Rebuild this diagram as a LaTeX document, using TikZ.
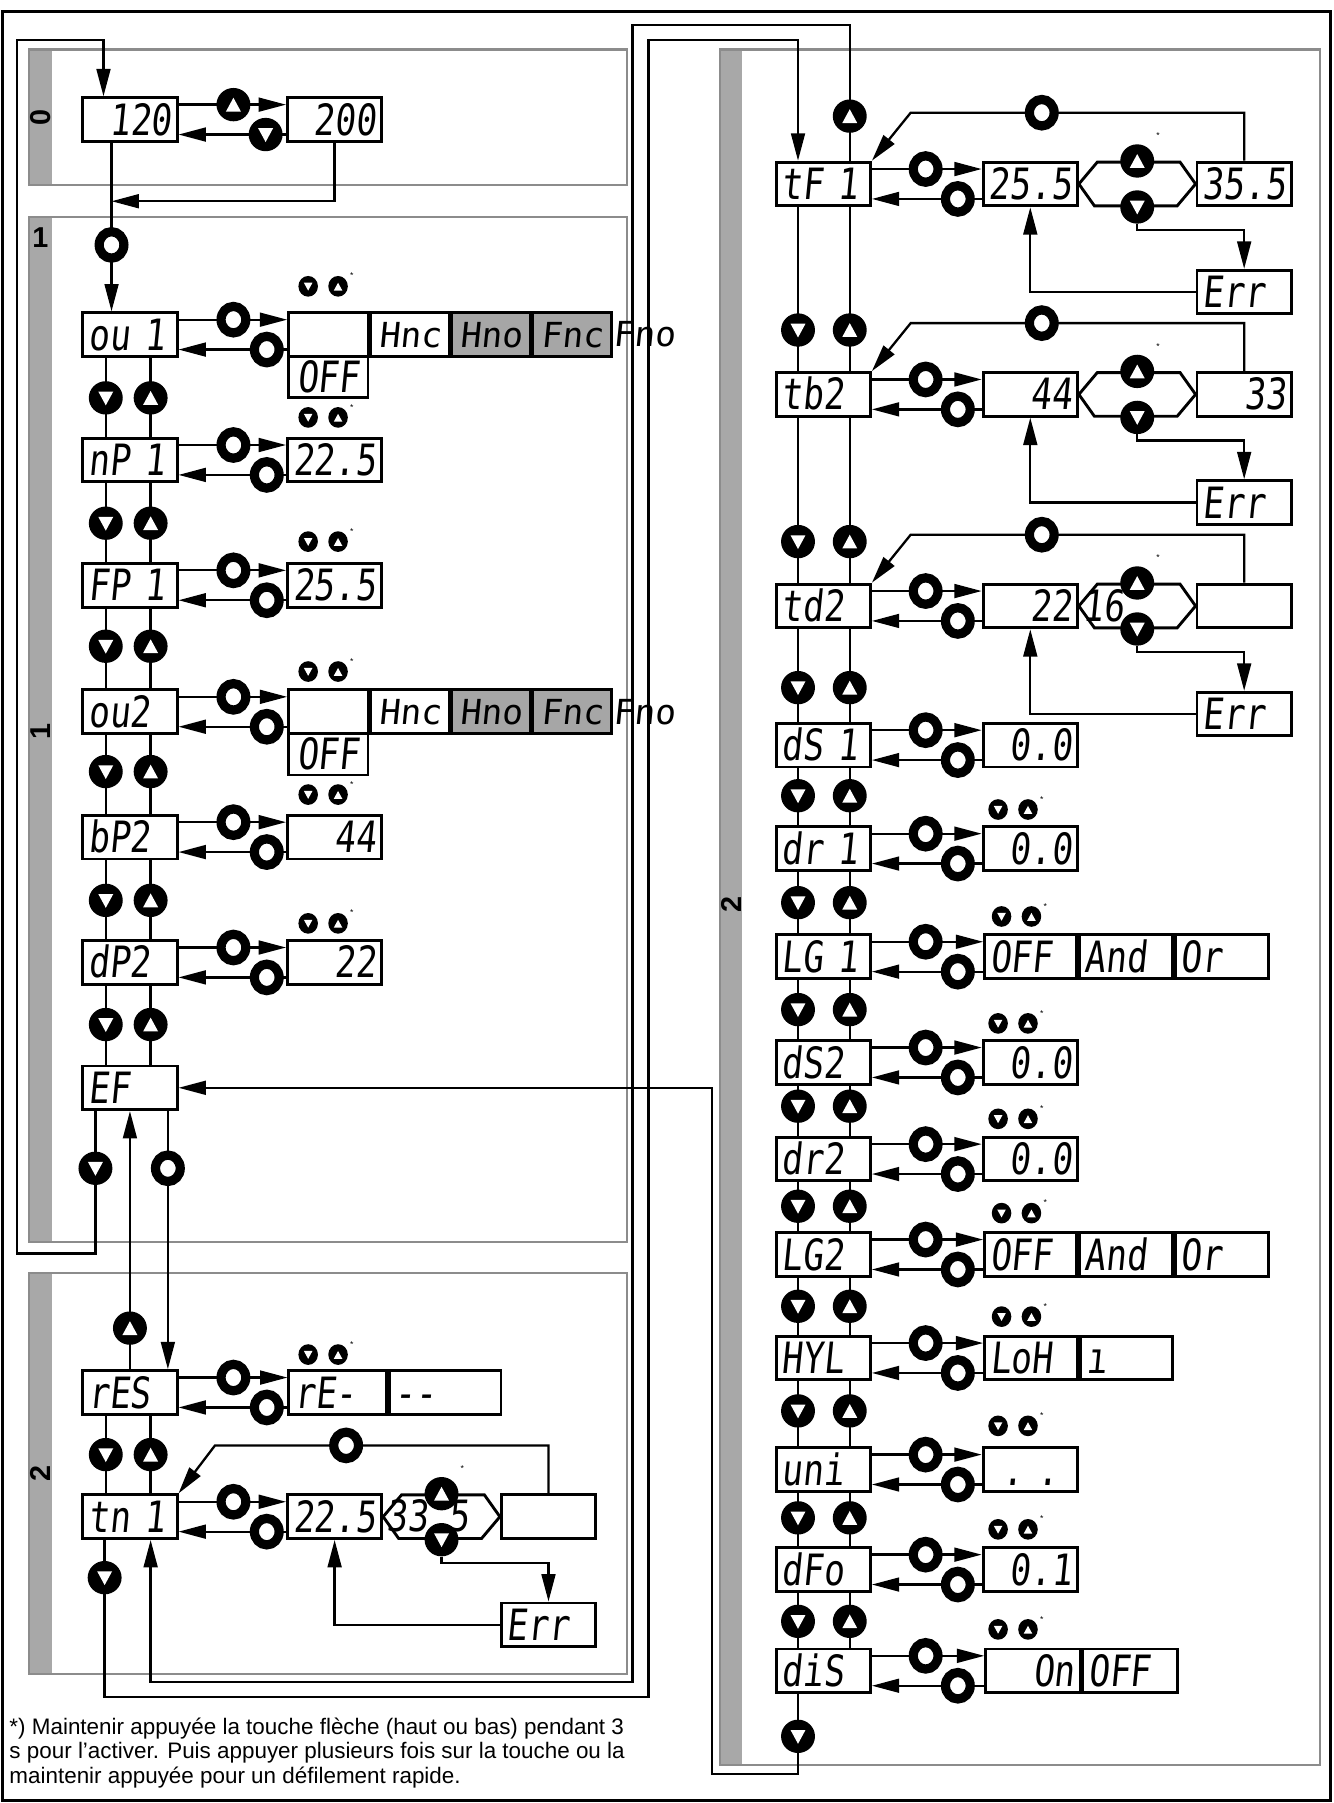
\documentclass[tikz,border=0pt]{standalone}
\usepackage{fontspec}
\setmainfont{Liberation Sans}
\newfontfamily\segfont[FakeStretch=0.8,FakeSlant=0.1]{DejaVu Sans Mono}
\newfontfamily\segwide[FakeSlant=0.1]{DejaVu Sans Mono}
\usepackage{xcolor}
\usetikzlibrary{arrows.meta,calc,positioning,shapes.geometric}
\definecolor{secGray}{HTML}{8C8C8C}
\definecolor{barGray}{HTML}{A8A8A8}
\definecolor{cellGray}{HTML}{A6A6A6}
\pgfdeclarelayer{back}
\pgfdeclarelayer{wires}
\pgfsetlayers{back,wires,main}

\begin{document}
\begin{tikzpicture}[x=0.8pt,y=-0.8pt,
    disp/.style={draw, line width=2pt, fill=white, minimum height=30.4pt, inner ysep=0pt, inner xsep=3.8pt,
      text height=21.6pt, text depth=0pt, font=\segfont\fontsize{30}{30}\selectfont},
    param/.style={disp, text width=58pt, align=left},
    val/.style={disp, text width=58pt, align=right},
    cellL/.style={disp, text width=#1, align=left},
    cellR/.style={disp, text width=#1, align=right},
    hcell/.style={disp, minimum width=54.4pt, text height=17.5pt, font=\segwide\fontsize{24}{24}\selectfont},
    kO/.style={ellipse, draw, line width=6.4pt, fill=white, minimum width=17.2pt, minimum height=18.4pt, inner sep=0pt},
    kDn/.style={ellipse, fill=black, minimum width=23.6pt, minimum height=23.2pt, inner sep=0pt,
      path picture={\fill[white] ([shift={(-5.2pt,4.4pt)}]path picture bounding box.center) -- ++(10.4pt,0pt) -- ++(-5.2pt,-9.6pt) -- cycle;}},
    kUp/.style={ellipse, fill=black, minimum width=23.6pt, minimum height=23.2pt, inner sep=0pt,
      path picture={\fill[white] ([shift={(-5.2pt,-4.8pt)}]path picture bounding box.center) -- ++(10.4pt,0pt) -- ++(-5.2pt,9.6pt) -- cycle;}},
    skDn/.style={ellipse, fill=black, minimum width=13.6pt, minimum height=14.4pt, inner sep=0pt,
      path picture={\fill[white] ([shift={(-3pt,2.5pt)}]path picture bounding box.center) -- ++(6pt,0pt) -- ++(-3pt,-5.5pt) -- cycle;}},
    skUp/.style={ellipse, fill=black, minimum width=13.6pt, minimum height=14.4pt, inner sep=0pt,
      path picture={\fill[white] ([shift={(-3pt,-3pt)}]path picture bounding box.center) -- ++(6pt,0pt) -- ++(-3pt,5.5pt) -- cycle;}},
    star/.style={inner sep=0pt, font=\fontsize{6}{6}\selectfont},
    wire/.style={line width=1.6pt},
    arr/.style={wire, -{Triangle[length=19pt,width=9.6pt]}},
    sec/.style={draw=secGray, line width=1.6pt},
    lbl/.style={font=\bfseries\fontsize{20}{20}\selectfont, inner sep=0pt}
  ]
  \useasboundingbox (0,0) rectangle (1160,1568);
  \draw[line width=2pt] (2,10) rectangle (1157,1566);

  % menu sections
  \begin{pgfonlayer}{back}
    \fill[barGray] (25,43) rectangle (45,161);     \draw[sec] (25,43) rectangle (545,161);
    \fill[barGray] (25,189) rectangle (45,1080);   \draw[sec] (25,189) rectangle (545,1080);
    \fill[barGray] (25,1107) rectangle (45,1456);  \draw[sec] (25,1107) rectangle (545,1456);
    \fill[barGray] (626,43) rectangle (645,1535);  \draw[sec] (626,43) rectangle (1148,1535);
  \end{pgfonlayer}
  \node[lbl, rotate=90] (lbl0) at (35,102) {0};
  \node[lbl] (lbl1) at (35,207) {1};
  \node[lbl, rotate=90] (lbl1b) at (35,636) {1};
  \node[lbl, rotate=90] (lbl2) at (35,1281) {2};
  \node[lbl, rotate=90] (lbl3) at (636,787) {2};

  % parameters
  \node[val] (p120) at (113,104) {120};
  \node[val] (p200) at (291,104) {200};
  \node[param] (ou1) at (113,291) {ou 1};
  \node[param] (nP1) at (113,400) {nP 1};
  \node[param] (FP1) at (113,509) {FP 1};
  \node[param] (ou2) at (113,619) {ou2};
  \node[param] (bP2) at (113,728) {bP2};
  \node[param] (dP2) at (113,837) {dP2};
  \node[param] (EF) at (113,946) {EF};
  \node[param] (rES) at (113,1211) {rES};
  \node[param] (tn1) at (113,1319) {tn 1};
  \node[param] (tF1) at (716,160) {tF 1};
  \node[param] (tb2) at (716,343) {tb2};
  \node[param] (td2) at (716,527) {td2};
  \node[param] (dS1) at (716,648) {dS 1};
  \node[param] (dr1) at (716,738) {dr 1};
  \node[param] (LG1) at (716,832) {LG 1};
  \node[param] (dS2) at (716,924) {dS2};
  \node[param] (dr2) at (716,1008) {dr2};
  \node[param] (LG2) at (716,1091) {LG2};
  \node[param] (HYL) at (716,1181) {HYL};
  \node[param] (uni) at (716,1278) {uni};
  \node[param] (dFo) at (716,1365) {dFo};
  \node[param] (diS) at (716,1453) {diS};

  % values
  \node[val] (vnP1) at (291,400) {22.5};
  \node[val] (vFP1) at (291,509) {25.5};
  \node[val] (vbP2) at (291,728) {44};
  \node[val] (vdP2) at (291,837) {22};
  \node[val] (vdS1) at (896,648) {0.0};
  \node[val] (vdr1) at (896,738) {0.0};
  \node[val] (vdS2) at (896,924) {0.0};
  \node[val] (vdr2) at (896,1008) {0.0};
  \node[disp, text width=58pt, align=center] (vuni) at (896,1278) {.\ .};
  \node[val] (vdFo) at (896,1365) {0.1};
  \foreach \a/\y in {ou1/291, ou2/619}{
    \node[disp, minimum width=55.2pt] (v\a) at (285.5,\y) {};
    \node[disp, minimum width=55.2pt, minimum height=28.8pt, outer sep=0pt, anchor=north] (off\a) at ([yshift=1pt]v\a.south) {OFF};
    \node[hcell, right=0pt of v\a] (hnc\a) {Hnc};
    \node[hcell, fill=cellGray, right=0pt of hnc\a] (hno\a) {Hno};
    \node[hcell, fill=cellGray, right=0pt of hno\a] (fnc\a) {Fnc};
    \node[inner sep=0pt, text height=17.5pt, anchor=west, font=\segwide\fontsize{24}{24}\selectfont] (fno\a) at (fnc\a.east) {Fno};
  }
  \node[cellL=60.4pt, anchor=west] (vrES) at (250,1211) {rE-};
  \node[cellL=70pt, right=0pt of vrES] (wrES) {--};
  \foreach \a/\y in {LG1/832, LG2/1091}{
    \node[cellL=56.4pt, anchor=west] (v\a) at (855,\y) {OFF};
    \node[cellL=57.2pt, right=0pt of v\a] (and\a) {And};
    \node[cellL=57.2pt, right=0pt of and\a] (or\a) {Or};
  }
  \node[cellL=57.2pt, anchor=west] (vHYL) at (855,1181) {LoH};
  \node[cellL=56.4pt, right=0pt of vHYL] (hiHYL) {ı};
  \node[cellR=58pt, anchor=west] (vdiS) at (856,1453) {On};
  \node[cellL=58pt, right=0pt of vdiS] (offdiS) {OFF};

  % setpoint rows with range check
  \foreach \a/\xv/\y/\v/\r/\h in {tn1/291/1319/22.5//33.5, tF1/896/160/25.5/35.5/, tb2/896/343/44/33/, td2/896/527/22//16}{
    \node[val] (v\a) at (\xv,\y) {\v};
    \node[val] (r\a) at (\xv+186,\y) {\r};
    \node[inner sep=0pt, anchor=west, text height=21.6pt, font=\segfont\fontsize{30}{30}\selectfont] (h\a) at (\xv+45,\y) {\h};
    \node[kUp] (u\a) at (\xv+93,\y-20) {};
    \node[kDn] (d\a) at (\xv+93,\y+20) {};
    \node[star] (s\a) at (\xv+111,\y-42) {*};
    \node[kO] (o\a) at (\xv+10,\y-62) {};
    \node[param] (e\a) at (\xv+186,\y+94) {Err};
    \coordinate (k\a) at (\xv-104,\y-62);
    \coordinate (j\a) at (\xv+93,\y+40);
    \begin{pgfonlayer}{wires}
      \draw[line width=2pt] (v\a.east) -- ++(16,-19) -- ++(72,0) -- (r\a.west) -- ++(-16,19) -- ++(-72,0) -- cycle;
      \draw[arr] (r\a.north) |- (k\a) -- (\a.north east);
      \draw[arr] (d\a) -- (j\a) -| (e\a.north);
      \draw[arr] (e\a.west) -| (v\a.south);
    \end{pgfonlayer}
  }

  % enter / leave a value
  \foreach \a/\y in {ou1/291, nP1/400, FP1/509, ou2/619, bP2/728, dP2/837, rES/1211, tn1/1319}{
    \node[kO] (kf\a) at (203,\y-13) {};
    \node[kO] (kb\a) at (232,\y+13) {};
    \begin{pgfonlayer}{wires}
      \draw[arr] (\a.east |- kf\a) -- (v\a.west |- kf\a);
      \draw[arr] (v\a.west |- kb\a) -- (\a.east |- kb\a);
    \end{pgfonlayer}
  }
  \foreach \a/\y in {tF1/160, tb2/343, td2/527, dS1/648, dr1/738, LG1/832, dS2/924, dr2/1008, LG2/1091, HYL/1181, uni/1278, dFo/1365, diS/1453}{
    \node[kO] (kf\a) at (805,\y-13) {};
    \node[kO] (kb\a) at (833,\y+13) {};
    \begin{pgfonlayer}{wires}
      \draw[arr] (\a.east |- kf\a) -- (v\a.west |- kf\a);
      \draw[arr] (v\a.west |- kb\a) -- (\a.east |- kb\a);
    \end{pgfonlayer}
  }

  % scrolling between parameters
  \foreach \a/\b/\y in {ou1/nP1/346, nP1/FP1/455, FP1/ou2/562, ou2/bP2/671, bP2/dP2/783, dP2/EF/891, rES/tn1/1265}{
    \node[kDn] (dn\a) at (92,\y) {};
    \node[kUp] (up\a) at (131,\y) {};
    \begin{pgfonlayer}{wires}
      \draw[wire] (\a.south -| dn\a) -- (\b.north -| dn\a);
      \draw[wire] (\a.south -| up\a) -- (\b.north -| up\a);
    \end{pgfonlayer}
  }
  \foreach \a/\b/\y in {tF1/tb2/287, tb2/td2/471, td2/dS1/598, dS1/dr1/692, dr1/LG1/785, LG1/dS2/878, dS2/dr2/962, dr2/LG2/1049, LG2/HYL/1136, HYL/uni/1227, uni/dFo/1320, dFo/diS/1410}{
    \node[kDn] (dn\a) at (694,\y) {};
    \node[kUp] (up\a) at (739,\y) {};
    \begin{pgfonlayer}{wires}
      \draw[wire] (\a.south -| dn\a) -- (\b.north -| dn\a);
      \draw[wire] (\a.south -| up\a) -- (\b.north -| up\a);
    \end{pgfonlayer}
  }

  % fast scroll marks
  \foreach \x/\y [count=\i] in {268/249, 268/363, 268/471, 268/584, 268/691, 268/803, 268/1178,
      868/704, 871/797, 868/890, 868/973, 871/1055, 871/1145, 868/1240, 868/1330, 868/1417}{
    \node[skDn] (id\i) at (\x,\y) {};
    \node[skUp] (iu\i) at (\x+26,\y) {};
    \node[star] (is\i) at (\x+38,\y-9) {*};
  }

  % entry, exit and jumps between sections
  \node[kUp] (k0up) at (203,91) {};
  \node[kDn] (k0dn) at (231,117) {};
  \node[kO] (k1o) at (97,213) {};
  \node[kDn] (dnEF) at (83,1016) {};
  \node[kO] (oEF) at (146,1016) {};
  \node[kUp] (upEFin) at (113,1155) {};
  \node[kDn] (dnloop) at (91,1372) {};
  \node[kUp] (uptop) at (739,101) {};
  \node[kDn] (dnend) at (694,1510) {};
  \coordinate (j0) at (97,175);
  \coordinate (l1) at (15,1090);
  \coordinate (l2) at (15,35);
  \coordinate (l3) at (90,35);
  \coordinate (a1) at (564,1476);
  \coordinate (a2) at (694,35);
  \coordinate (b1) at (550,22);
  \coordinate (b2) at (131,1463);
  \coordinate (c1) at (619,1543);
  \begin{pgfonlayer}{wires}
    \draw[arr] (p120.east |- k0up) -- (p200.west |- k0up);
    \draw[arr] (p200.west |- k0dn) -- (p120.east |- k0dn);
    \draw[arr] (p200.south) |- (j0);
    \draw[arr] (p120.south -| k1o) -- (ou1.north -| k1o);
    \draw[arr] (EF.south -| dnEF) |- (l1) -- (l2) -- (l3) -- (p120.north -| l3);
    \draw[arr] (EF.south -| oEF) -- (rES.north -| oEF);
    \draw[arr] (rES.north -| upEFin) -- (EF.south -| upEFin);
    \draw[arr] (tn1.south -| dnloop) |- (a1) |- (a2) -- (tF1.north -| a2);
    \draw[arr] (tF1.north -| uptop) |- (b1) |- (b2) -- (tn1.south -| b2);
    \draw[arr] (diS.south -| dnend) |- (c1) |- (EF.east);
  \end{pgfonlayer}

  \node[anchor=north west, align=left, inner sep=0pt, font=\fontsize{15.6}{16.8}\selectfont] (note) at (8,1494)
    {*) Maintenir appuyée la touche flèche (haut ou bas) pendant 3\\
     s pour l'activer. Puis appuyer plusieurs fois sur la touche ou la\\
     maintenir appuyée pour un défilement rapide.};
\end{tikzpicture}
\end{document}
